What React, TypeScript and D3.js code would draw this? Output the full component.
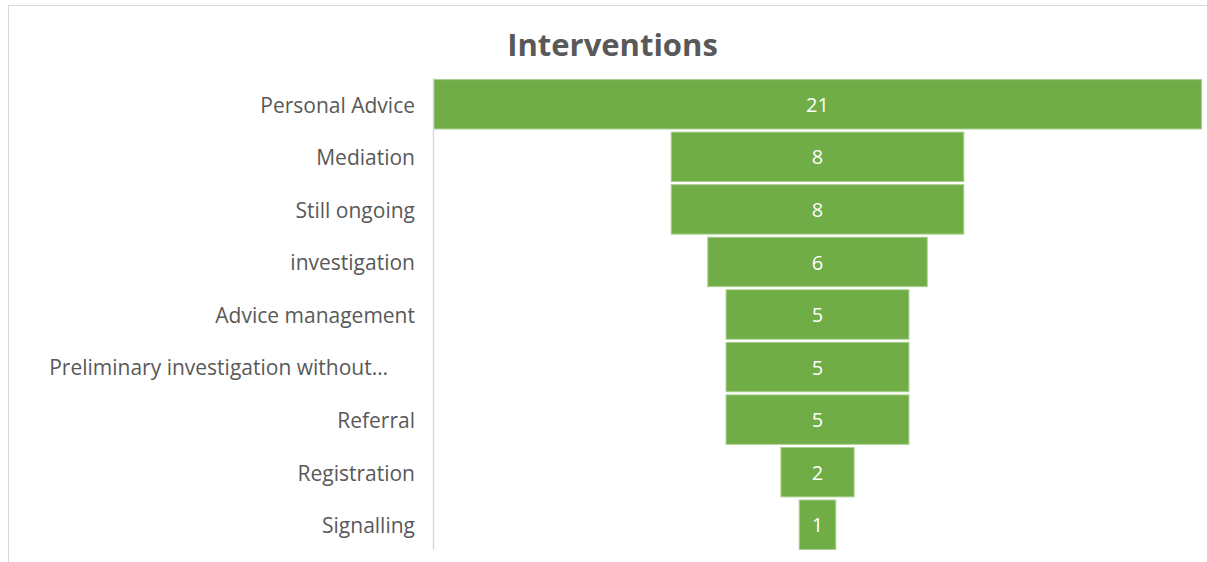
import React, { useEffect, useRef } from "react";
import * as d3 from "d3";

const categories = [
  "Personal Advice",
  "Mediation",
  "Still ongoing",
  "investigation",
  "Advice management",
  "Preliminary investigation without…",
  "Referral",
  "Registration",
  "Signalling",
];
const counts = [21, 8, 8, 6, 5, 5, 5, 2, 1];

const App = () => {
  const ref = useRef<SVGSVGElement | null>(null);

  useEffect(() => {
    const width = 1207;
    const height = 562;
    const axisX = 433.5;
    const plotRight = 1201.5;
    const center = (axisX + plotRight) / 2;
    const font = "'Open Sans', 'Noto Sans', sans-serif";

    const svg = d3.select(ref.current);
    svg.selectAll("*").remove();
    svg.attr("width", width).attr("height", height);

    // chart frame
    svg
      .append("rect")
      .attr("x", 8.5)
      .attr("y", 5.5)
      .attr("width", 1250)
      .attr("height", 650)
      .attr("fill", "#fff")
      .attr("stroke", "#d9d9d9");

    const maxVal = d3.max(counts) as number;
    const w = d3.scaleLinear().domain([0, maxVal]).range([0, plotRight - axisX]);
    const y = d3
      .scaleBand()
      .domain(categories)
      .range([78, 551])
      .paddingInner(0.06)
      .paddingOuter(0.03);

    const data = categories.map((c, i) => ({ cat: c, v: counts[i] }));

    svg
      .selectAll(".bar")
      .data(data)
      .enter()
      .append("rect")
      .attr("class", "bar")
      .attr("x", (d) => center - w(d.v) / 2)
      .attr("y", (d) => y(d.cat) as number)
      .attr("width", (d) => w(d.v))
      .attr("height", y.bandwidth())
      .attr("fill", "#70ad47")
      .attr("stroke", "#a8d08d")
      .attr("stroke-width", 1);

    svg
      .selectAll(".val")
      .data(data)
      .enter()
      .append("text")
      .attr("class", "val")
      .attr("x", center)
      .attr("y", (d) => (y(d.cat) as number) + y.bandwidth() / 2)
      .attr("dy", "0.38em")
      .attr("text-anchor", "middle")
      .attr("fill", "#fff")
      .style("font-family", font)
      .style("font-size", "20px")
      .text((d) => d.v);

    // category axis line
    svg
      .append("line")
      .attr("x1", axisX)
      .attr("x2", axisX)
      .attr("y1", 78)
      .attr("y2", 550)
      .attr("stroke", "#d9d9d9")
      .attr("stroke-width", 1.5);

    svg
      .selectAll(".cat")
      .data(data)
      .enter()
      .append("text")
      .attr("class", "cat")
      .attr("x", (d) => (d.cat.endsWith("…") ? 388 : 415))
      .attr("y", (d) => (y(d.cat) as number) + y.bandwidth() / 2)
      .attr("dy", "0.4em")
      .attr("text-anchor", "end")
      .attr("fill", "#595959")
      .style("font-family", font)
      .style("font-size", "21px")
      .text((d) => d.cat);

    svg
      .append("text")
      .attr("x", 612.5)
      .attr("y", 56)
      .attr("text-anchor", "middle")
      .attr("fill", "#595959")
      .style("font-family", font)
      .style("font-size", "31px")
      .style("font-weight", "bold")
      .text("Interventions");
  }, []);

  return (
    <div style={{ position: "absolute", left: 0, top: 0 }}>
      <svg ref={ref} style={{ display: "block" }}></svg>
    </div>
  );
};

export default App;
